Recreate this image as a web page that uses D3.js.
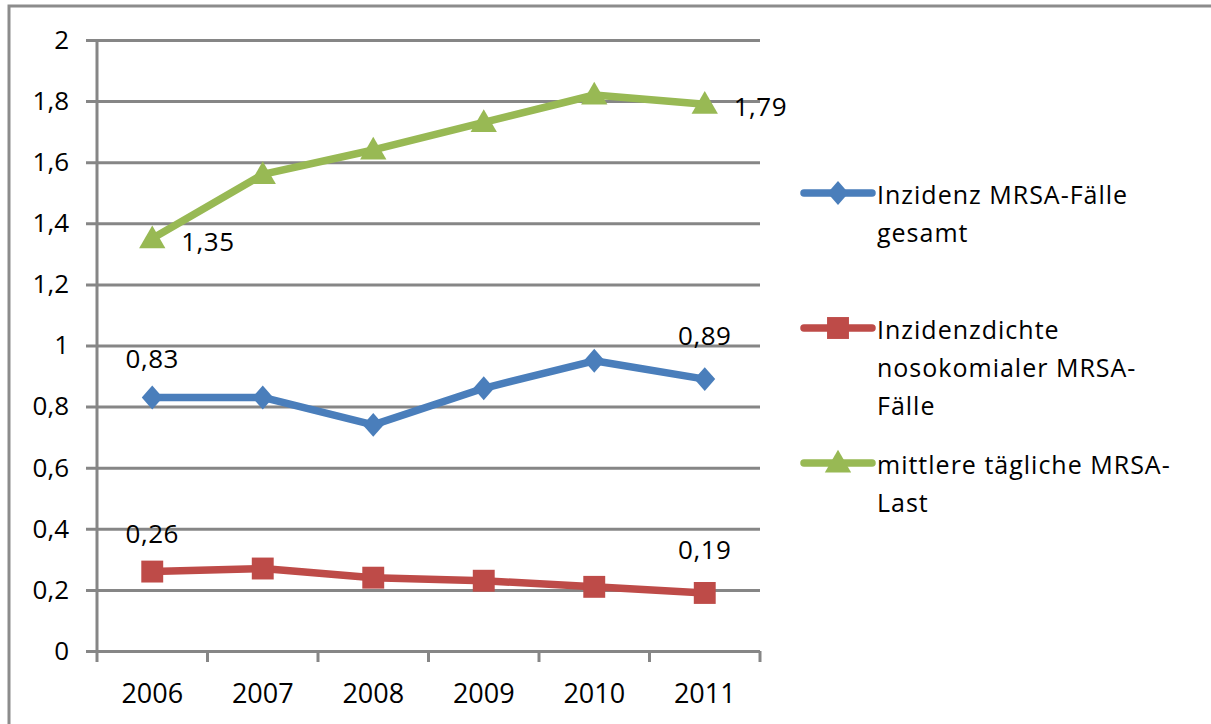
<!DOCTYPE html>
<html>
<head>
<meta charset="utf-8">
<script src="https://cdn.jsdelivr.net/npm/d3@7"></script>
<style>
  body { margin: 0; background: #fff; }
  text { font-family: "Open Sans", "Noto Sans", sans-serif; fill: #000; }
</style>
</head>
<body>
<div id="chart"></div>
<script>
const years = ["2006", "2007", "2008", "2009", "2010", "2011"];
const inzidenz = [0.83, 0.83, 0.74, 0.86, 0.95, 0.89];
const inzidenzdichte = [0.26, 0.27, 0.24, 0.23, 0.21, 0.19];
const mrsaLast = [1.35, 1.56, 1.64, 1.73, 1.82, 1.79];
const yTicks = [0, 0.2, 0.4, 0.6, 0.8, 1, 1.2, 1.4, 1.6, 1.8, 2];

const seriesNames = [
  ["Inzidenz MRSA-Fälle", "gesamt"],
  ["Inzidenzdichte", "nosokomialer MRSA-", "Fälle"],
  ["mittlere tägliche MRSA-", "Last"]
];
const seriesColors = ["#4a7ebb", "#be4b48", "#98b954"];
const seriesValues = [inzidenz, inzidenzdichte, mrsaLast];
const markerTypes = [d3.symbolDiamond2, d3.symbolSquare, d3.symbolTriangle];
const markerSize = [330, 480, 300];

const width = 1211, height = 724;
const plotLeft = 97, plotRight = 760, plotTop = 40, plotBottom = 651;

const de = d3.formatLocale({ decimal: ",", thousands: ".", grouping: [3], currency: ["", " €"] });
const fmtTick = de.format("~g");
const fmtLabel = de.format(".2f");

const svg = d3.select("#chart").append("svg")
  .attr("width", width)
  .attr("height", height);

// outer frame (runs off right and bottom edges)
svg.append("rect")
  .attr("x", 9).attr("y", 6)
  .attr("width", 1400).attr("height", 1000)
  .attr("fill", "none")
  .attr("stroke", "#8c8c8c")
  .attr("stroke-width", 3);

const x = d3.scaleBand().domain(years).range([plotLeft, plotRight]);
const y = d3.scaleLinear().domain([0, 2]).range([plotBottom, plotTop]);

// y gridlines + labels
const yAxis = svg.append("g")
  .attr("transform", `translate(${plotLeft - 11},0)`)
  .call(d3.axisLeft(y).tickValues(yTicks).tickFormat(fmtTick)
    .tickSize(-(plotRight - plotLeft + 11)).tickPadding(17));
yAxis.select(".domain").remove();
yAxis.selectAll("line").attr("stroke", "#868686").attr("stroke-width", 3);
yAxis.selectAll("text").attr("font-size", 26).attr("font-family", null);

// vertical axis line
svg.append("line")
  .attr("x1", plotLeft).attr("x2", plotLeft)
  .attr("y1", y(2)).attr("y2", y(0))
  .attr("stroke", "#868686").attr("stroke-width", 3);

// x axis labels
const xAxis = svg.append("g")
  .attr("transform", `translate(0,${plotBottom})`)
  .call(d3.axisBottom(x).tickSize(0).tickPadding(33));
xAxis.select(".domain").remove();
xAxis.selectAll("text").attr("font-size", 27).attr("font-family", null);

// x tick marks at category boundaries
const boundaries = years.map(d => x(d)).concat([x.range()[1]]);
svg.append("g").selectAll("line")
  .data(boundaries)
  .join("line")
  .attr("x1", d => d).attr("x2", d => d)
  .attr("y1", y(0)).attr("y2", y(0) + 11)
  .attr("stroke", "#868686").attr("stroke-width", 3);

const cx = d => x(d) + x.bandwidth() / 2;
const line = d3.line().x((d, i) => cx(years[i])).y(d => y(d));

seriesValues.forEach((vals, s) => {
  svg.append("path")
    .datum(vals)
    .attr("d", line)
    .attr("fill", "none")
    .attr("stroke", seriesColors[s])
    .attr("stroke-width", 7.5)
    .attr("stroke-linejoin", "round");

  svg.append("g").selectAll("path")
    .data(vals)
    .join("path")
    .attr("transform", (d, i) => `translate(${cx(years[i])},${y(d) + (s === 2 ? 2 : 0)})` + (s === 0 ? " scale(0.92,1.05)" : ""))
    .attr("d", d3.symbol().type(markerTypes[s]).size(markerSize[s]))
    .attr("fill", seriesColors[s]);
});

// data labels: first and last point
const labelStyle = (sel) => sel.attr("font-size", 26).attr("letter-spacing", 0.5);
[0, 1].forEach(s => {
  const vals = seriesValues[s];
  [0, vals.length - 1].forEach(i => {
    svg.append("text")
      .attr("x", cx(years[i]))
      .attr("y", y(vals[i]) - (i === 0 ? 29 : 34))
      .attr("text-anchor", "middle")
      .text(fmtLabel(vals[i]))
      .call(labelStyle);
  });
});
[0, mrsaLast.length - 1].forEach(i => {
  svg.append("text")
    .attr("x", cx(years[i]) + 29)
    .attr("y", y(mrsaLast[i]) + 12)
    .text(fmtLabel(mrsaLast[i]))
    .call(labelStyle);
});

// legend
const legend = svg.append("g");
seriesNames.forEach((lines, s) => {
  const ly = 193 + s * 135;
  const g = legend.append("g").attr("transform", `translate(838,${ly})`);
  g.append("line")
    .attr("x1", -34).attr("x2", 34)
    .attr("stroke", seriesColors[s])
    .attr("stroke-width", 7.5)
    .attr("stroke-linecap", "round");
  g.append("path")
    .attr("transform", s === 2 ? "translate(0,2)" : (s === 0 ? "scale(0.92,1.05)" : null))
    .attr("d", d3.symbol().type(markerTypes[s]).size(markerSize[s]))
    .attr("fill", seriesColors[s]);
  g.append("text")
    .attr("x", 39)
    .attr("y", 11)
    .attr("font-size", 25)
    .attr("letter-spacing", 1)
    .selectAll("tspan")
    .data(lines)
    .join("tspan")
    .attr("x", 39)
    .attr("dy", (d, i) => i === 0 ? 0 : 38)
    .text(d => d);
});
</script>
</body>
</html>
